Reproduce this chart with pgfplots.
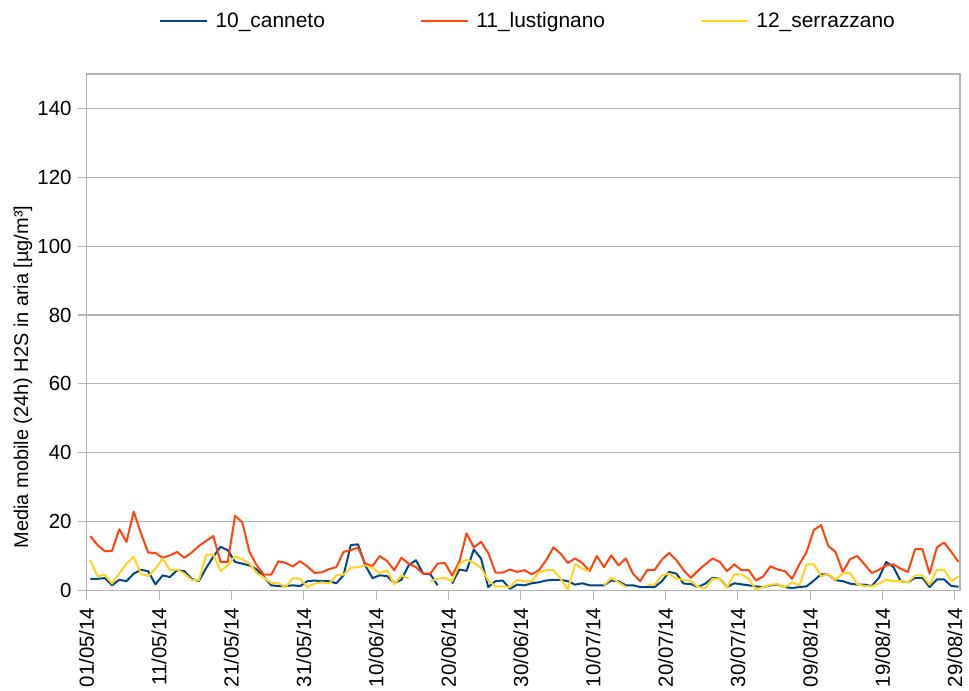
\documentclass[border=0pt]{standalone}
\usepackage{pgfplots}
\usepackage{pgfplotstable}
\pgfplotsset{compat=1.18}
\usepackage{fontspec}
\setmainfont{Liberation Sans}
\definecolor{cblue}{HTML}{004586}
\definecolor{cred}{HTML}{FF420E}
\definecolor{cyellow}{HTML}{FFD320}
\definecolor{cgrid}{HTML}{B3B3B3}

\pgfplotstableread{
d v
0 3.4
1 3.4
2 3.6
3 1.5
4 3.1
5 2.7
6 4.9
7 6
8 5.6
9 1.8
10 4.4
11 3.9
12 5.9
13 5.6
14 3.4
15 2.7
16 6.5
17 9.8
18 12.7
19 11.7
20 8.3
21 7.8
22 7.3
23 6.1
24 3.9
25 1.5
26 1.3
27 1.3
28 1.5
29 1.3
30 2.7
31 2.9
32 2.7
33 2.7
34 2.1
35 4.4
36 13.2
37 13.4
38 7.3
39 3.6
40 4.4
41 4.2
42 2.2
43 3.1
44 7.3
45 8.8
46 4.9
47 4.7
48 1.5
49 nan
50 2
51 6.1
52 5.7
53 11.9
54 9.3
55 1
56 2.7
57 2.9
58 0.5
59 1.7
60 1.5
61 2.1
62 2.4
63 2.9
64 3.1
65 3.1
66 2.7
67 1.7
68 2.1
69 1.5
70 1.5
71 1.5
72 2.9
73 2.7
74 1.5
75 1.5
76 1
77 1
78 1
79 2.7
80 5.4
81 4.9
82 2
83 1.9
84 1
85 2
86 3.7
87 3.4
88 1
89 2.1
90 1.8
91 1.5
92 1.2
93 1
94 1.5
95 1.7
96 1
97 0.7
98 1
99 1.2
100 2.9
101 4.7
102 4.6
103 3
104 2.7
105 2
106 1.7
107 1.7
108 1.3
109 3.7
110 8.3
111 6.8
112 2.7
113 2.4
114 3.7
115 3.7
116 1
117 3.2
118 3.2
119 1.3
120 1.1
}\canneto

\pgfplotstableread{
d v
0 15.8
1 13.2
2 11.4
3 11.5
4 17.8
5 14.1
6 22.9
7 16.6
8 11
9 10.9
10 9.5
11 10.2
12 11.2
13 9.5
14 11
15 12.9
16 14.4
17 15.8
18 8.3
19 8.3
20 21.7
21 19.8
22 11.2
23 7.3
24 4.6
25 4.6
26 8.5
27 8
28 7
29 8.5
30 7
31 5.1
32 5.3
33 6.2
34 6.8
35 11.2
36 11.7
37 12.5
38 7.8
39 7.1
40 10
41 8.6
42 5.9
43 9.5
44 7.8
45 6.8
46 4.9
47 4.9
48 7.8
49 8
50 4.4
51 8.3
52 16.6
53 12.5
54 14.1
55 10.9
56 5.2
57 5.2
58 6.1
59 5.4
60 5.9
61 4.7
62 5.9
63 8.8
64 12.5
65 10.7
66 8
67 9.3
68 8
69 5.6
70 10
71 6.8
72 10.2
73 7.3
74 9.3
75 4.9
76 2.7
77 6
78 6
79 9
80 10.9
81 8.8
82 5.9
83 3.7
84 5.8
85 7.6
86 9.3
87 8.3
88 5.6
89 7.6
90 5.9
91 5.9
92 2.9
93 4.1
94 7
95 6.1
96 5.6
97 3.4
98 7.6
99 11.2
100 17.6
101 19
102 12.9
103 11.2
104 5.4
105 9.1
106 10
107 7.6
108 5.1
109 6
110 7.3
111 7.6
112 6.3
113 5.4
114 12
115 12
116 4.9
117 12.5
118 13.9
119 11.2
120 8.3
}\lustignano

\pgfplotstableread{
d v
0 8.8
1 4.1
2 4.6
3 2
4 4.9
5 7.8
6 9.8
7 4.9
8 4.1
9 6.3
10 9.3
11 5.9
12 6.1
13 4.9
14 3.1
15 2.9
16 10.4
17 10.4
18 5.7
19 7.3
20 10
21 9
22 7.8
23 5.1
24 3.7
25 2.2
26 2.1
27 1
28 3.6
29 3.4
30 1
31 2
32 2.4
33 2
34 4.4
35 4.6
36 6.6
37 6.8
38 7.3
39 6.6
40 5.1
41 5.9
42 1.8
43 4.4
44 3.4
45 nan
46 nan
47 2.7
48 3.4
49 3.7
50 2.7
51 7.6
52 9
53 8
54 6.6
55 2.9
56 1.2
57 1.2
58 1
59 3.1
60 2.6
61 2.7
62 5.2
63 5.9
64 5.9
65 3.4
66 0.3
67 7.6
68 6.3
69 5.6
70 nan
71 1.5
72 3.7
73 2.4
74 1
75 nan
76 nan
77 1.7
78 1.7
79 4.4
80 4.9
81 3.4
82 3.1
83 2.8
84 1
85 0.7
86 3.4
87 3.4
88 0.8
89 4.7
90 4.7
91 3.4
92 0.2
93 1
94 1.7
95 1.8
96 1
97 2.4
98 1.5
99 7.6
100 7.6
101 4.2
102 4.7
103 3.1
104 5
105 5.1
106 1.8
107 1.3
108 1.2
109 2
110 3.1
111 2.7
112 2.7
113 2.4
114 4.4
115 4.4
116 1.7
117 6
118 6
119 2.7
120 4.1
}\serrazzano

\begin{document}
\begin{tikzpicture}
\begin{axis}[
  scale only axis,
  width=873.3bp, height=516.5bp,
  xmin=0, xmax=120.7,
  ymin=0, ymax=150,
  xtick={0,10,...,120},
  xticklabels={01/05/14,11/05/14,21/05/14,31/05/14,10/06/14,20/06/14,30/06/14,10/07/14,20/07/14,30/07/14,09/08/14,19/08/14,29/08/14},
  ytick={0,20,...,140},
  ymajorgrids,
  grid style={cgrid, line width=1.1bp},
  axis line style={cgrid, line width=1.1bp},
  tick style={cgrid, line width=1.1bp},
  tick align=outside,
  major tick length=9bp,
  xtick pos=bottom, ytick pos=left,
  /pgf/number format/assume math mode=true,
  tick label style={font=\fontsize{20.5}{24}\selectfont, text=black},
  xticklabel style={rotate=90, anchor=east, inner sep=0pt},
  yticklabel style={anchor=east, inner sep=0pt},
  xticklabel shift=8bp,
  yticklabel shift=6bp,
  ylabel={Media mobile (24h) H2S in aria [µg/m³]},
  ylabel style={font=\fontsize{20}{24}\selectfont, at={(axis description cs:-0.0729,0.4134)}, anchor=center},
  unbounded coords=jump,
  legend columns=3,
  legend style={draw=none, fill=none, at={(axis description cs:0.5042,1.1026)}, anchor=center,
    font=\fontsize{21}{24}\selectfont, inner sep=0pt,
    nodes={inner sep=0pt},
    /tikz/every even column/.append style={column sep=95bp},
    /tikz/every odd column/.append style={column sep=7bp}},
  legend image code/.code={\draw[#1, line width=2.4bp] (0bp,0bp) -- (47bp,0bp);},
  every axis plot/.append style={line width=2bp, line join=round},
]
\addplot[cblue, no markers] table[x expr=\thisrow{d}+0.5, y=v] {\canneto};
\addlegendentry{10\_canneto}
\addplot[cred, no markers] table[x expr=\thisrow{d}+0.5, y=v] {\lustignano};
\addlegendentry{11\_lustignano}
\addplot[cyellow, no markers] table[x expr=\thisrow{d}+0.5, y=v] {\serrazzano};
\addlegendentry{12\_serrazzano}
\end{axis}
\pgfresetboundingbox
\path (-86.7bp,-100.5bp) rectangle (882.3bp,590.5bp);
\end{tikzpicture}
\end{document}
